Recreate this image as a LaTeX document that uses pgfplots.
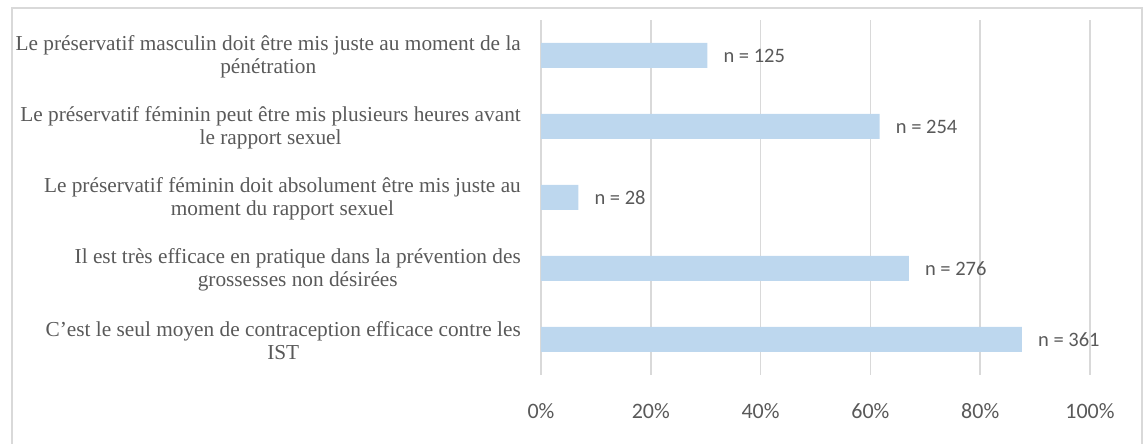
\documentclass[border=0pt]{standalone}
\usepackage{fontspec}
\setmainfont{Liberation Serif}
\newfontfamily\calibri{Carlito}
\usepackage{pgfplots}
\pgfplotsset{compat=1.18}
\definecolor{barc}{HTML}{BDD7EE}
\definecolor{txt}{HTML}{595959}
\definecolor{grd}{HTML}{D9D9D9}
\begin{document}
\begin{tikzpicture}[x=1bp,y=1bp]
\useasboundingbox (0,0) rectangle (1144,444);
\draw[grd, line width=1.5bp] (12,-10) -- (12,436) -- (1142,436) -- (1142,-10);
\begin{axis}[
  at={(541bp,69bp)}, anchor=south west,
  scale only axis, width=549bp, height=355bp,
  xmin=0, xmax=100, ymin=-0.5, ymax=4.5,
  xbar, bar width=25bp,
  axis line style={draw=none},
  xmajorgrids, grid style={grd, line width=1.5bp},
  major tick length=0pt,
  xtick={0,20,40,60,80,100},
  xticklabels={0\%,20\%,40\%,60\%,80\%,100\%},
  xticklabel style={font=\calibri\fontsize{22bp}{24bp}\selectfont, text=txt, inner sep=0pt, yshift=-28bp},
  ytick={0,1,2,3,4},
  yticklabels={
    {C’est le seul moyen de contraception efficace contre les\\IST},
    {Il est très efficace en pratique dans la prévention des\\grossesses non désirées},
    {Le préservatif féminin doit absolument être mis juste au\\moment du rapport sexuel},
    {Le préservatif féminin peut être mis plusieurs heures avant\\le rapport sexuel},
    {Le préservatif masculin doit être mis juste au moment de la\\pénétration}},
  yticklabel style={font=\fontsize{21.3bp}{23bp}\selectfont, text=txt, align=center, anchor=east, inner sep=0pt, xshift=-20bp, yshift=-1.5bp},
  nodes near coords,
  point meta=explicit symbolic,
  nodes near coords style={font=\calibri\fontsize{20.5bp}{22bp}\selectfont, text=txt, anchor=west, inner sep=0pt, xshift=16bp},
]
\addplot[fill=barc, draw=none] coordinates {
  (87.6,0) [n = 361]
  (67.0,1) [n = 276]
  (6.8,2) [n = 28]
  (61.7,3) [n = 254]
  (30.3,4) [n = 125]
};
\end{axis}
\end{tikzpicture}
\end{document}
